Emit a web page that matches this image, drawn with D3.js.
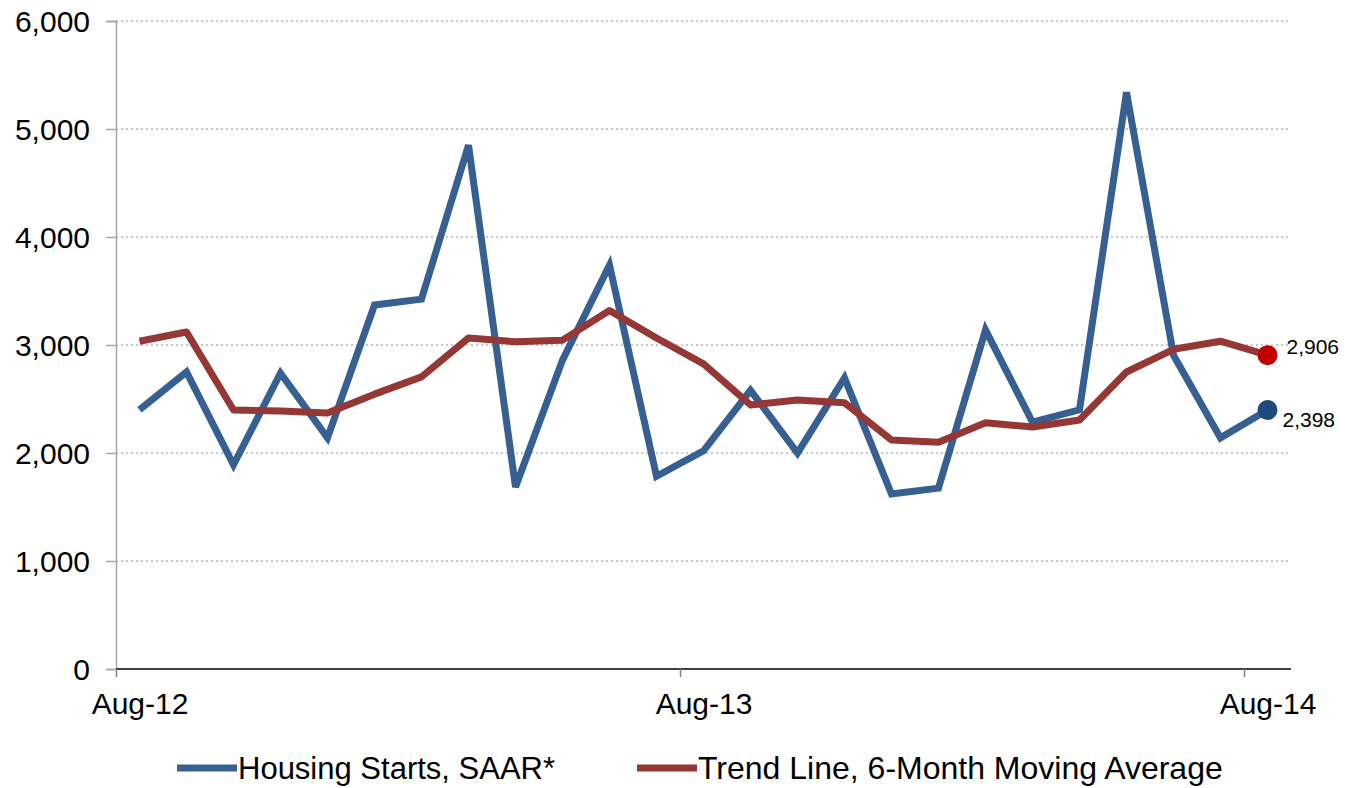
<!DOCTYPE html>
<html>
<head>
<meta charset="utf-8">
<script src="https://cdn.jsdelivr.net/npm/d3@7"></script>
<style>
  body { margin: 0; background: #fff; }
  text { font-family: "Liberation Sans", Arial, sans-serif; fill: #000; }
</style>
</head>
<body>
<script>
// monthly values, Aug-12 .. Aug-14
var months = ["Aug-12", "Sep-12", "Oct-12", "Nov-12", "Dec-12", "Jan-13", "Feb-13", "Mar-13", "Apr-13",
              "May-13", "Jun-13", "Jul-13", "Aug-13", "Sep-13", "Oct-13", "Nov-13", "Dec-13", "Jan-14",
              "Feb-14", "Mar-14", "Apr-14", "May-14", "Jun-14", "Jul-14", "Aug-14"];
var starts = [2400, 2750, 1890, 2740, 2140, 3370, 3425, 4850, 1685, 2860, 3740, 1785, 2020,
              2580, 2000, 2695, 1620, 1675, 3140, 2285, 2400, 5340, 2905, 2140, 2398];
var trend = [3035, 3120, 2398, 2390, 2370, 2545, 2705, 3065, 3030, 3045, 3320, 3065, 2825,
             2445, 2490, 2465, 2120, 2100, 2280, 2240, 2305, 2750, 2960, 3035, 2906];
var yTicks = [0, 1000, 2000, 3000, 4000, 5000, 6000];
var xTickIdx = [0, 12, 24];
var legendNames = ["Housing Starts, SAAR*", "Trend Line, 6-Month Moving Average"];

var svgWidth = 1361,
    svgHeight = 788,
    plot = { left: 116, right: 1291, top: 21, bottom: 669 },
    blue = "#376092",
    red = "#953735";

var svg = d3.select("body").append("svg")
    .attr("width", svgWidth)
    .attr("height", svgHeight);

var x = d3.scaleLinear().domain([0, months.length]).range([plot.left, plot.right]);
var y = d3.scaleLinear().domain([0, 6000]).range([plot.bottom, plot.top]);
var halfStep = x(0.5) - x(0);

// dotted gridlines
svg.append("g")
    .selectAll("line")
    .data(yTicks.filter(d => d > 0))
    .enter().append("line")
    .attr("x1", plot.left).attr("x2", plot.right)
    .attr("y1", d => y(d)).attr("y2", d => y(d))
    .attr("stroke", "#c8c8c8")
    .attr("stroke-width", 2)
    .attr("stroke-dasharray", "2,3");

// y axis
var yAxis = d3.axisLeft(y).tickValues(yTicks).tickSize(10).tickPadding(16).tickFormat(d3.format(","));
var yAxisGroup = svg.append("g")
    .attr("transform", "translate(" + plot.left + ",0)")
    .call(yAxis);
yAxisGroup.select(".domain").attr("stroke", "#a6a6a6").attr("stroke-width", 1.5);
yAxisGroup.selectAll(".tick line").attr("stroke", "#a6a6a6").attr("stroke-width", 1.5);
yAxisGroup.selectAll(".tick text").style("font-size", "30px").attr("dy", "0.35em");

// x axis: ticks on month boundaries, labels under the month's point
var xAxis = d3.axisBottom(x).tickValues(xTickIdx).tickSize(8).tickPadding(16)
    .tickFormat(i => months[i]);
var xAxisGroup = svg.append("g")
    .attr("transform", "translate(0," + plot.bottom + ")")
    .call(xAxis);
xAxisGroup.select(".domain").attr("stroke", "#000").attr("stroke-width", 1.5)
    .attr("d", "M" + plot.left + ",0H" + plot.right);
xAxisGroup.selectAll(".tick line").attr("stroke", "#808080").attr("stroke-width", 1.5);
xAxisGroup.selectAll(".tick text").style("font-size", "30px").attr("x", halfStep);

// lines
var line = d3.line()
    .x((d, i) => x(i + 0.5))
    .y(d => y(d));

svg.append("path")
    .datum(starts)
    .attr("d", line)
    .attr("fill", "none")
    .attr("stroke", blue)
    .attr("stroke-width", 7)
    .attr("stroke-linejoin", "miter");

svg.append("path")
    .datum(trend)
    .attr("d", line)
    .attr("fill", "none")
    .attr("stroke", red)
    .attr("stroke-width", 7)
    .attr("stroke-linejoin", "round");

// end markers + labels
var last = months.length - 1;
var ends = [
    { v: trend[last], color: "#c00000", dx: 19, dy: -9 },
    { v: starts[last], color: "#1f497d", dx: 15, dy: 10 }
];
ends.forEach(function (e) {
    svg.append("circle")
        .attr("cx", x(last + 0.5))
        .attr("cy", y(e.v))
        .attr("r", 10)
        .attr("fill", e.color);
    svg.append("text")
        .attr("x", x(last + 0.5) + e.dx)
        .attr("y", y(e.v) + e.dy)
        .attr("dy", "0.35em")
        .style("font-size", "21px")
        .text(d3.format(",")(e.v));
});

// legend
var legend = svg.append("g").attr("transform", "translate(0,768)");
var legendX = [177, 637];
[blue, red].forEach(function (c, i) {
    legend.append("line")
        .attr("x1", legendX[i]).attr("x2", legendX[i] + 60)
        .attr("y1", 0).attr("y2", 0)
        .attr("stroke", c)
        .attr("stroke-width", 7);
    legend.append("text")
        .attr("x", legendX[i] + 61)
        .attr("y", 0)
        .attr("dy", "0.35em")
        .style("font-size", i ? "32px" : "31px")
        .text(legendNames[i]);
});
</script>
</body>
</html>
